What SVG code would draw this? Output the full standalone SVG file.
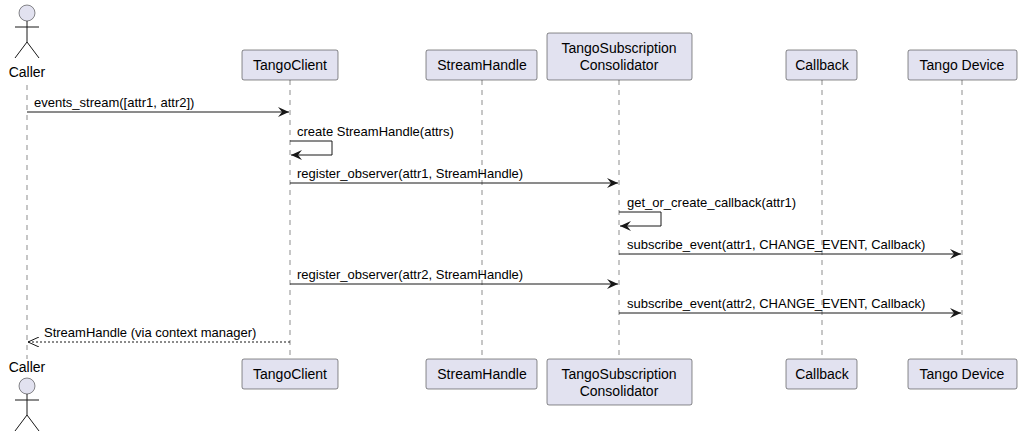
<svg xmlns="http://www.w3.org/2000/svg" width="1022" height="440" viewBox="0 0 1022 440">
<style>
text{font-family:"Liberation Sans",Arial,sans-serif;font-size:13px;fill:#000}
.box{fill:#E2E2F0;stroke:#181818;stroke-width:0.5}
.life{stroke:#181818;stroke-width:0.5;stroke-dasharray:5,5}
.msg{stroke:#181818;stroke-width:1;fill:none}
.act{fill:#E2E2F0;stroke:#181818;stroke-width:0.5}
.c{text-anchor:middle;font-size:14px}
</style>
<defs>
<marker id="ah" markerWidth="12" markerHeight="10" refX="11" refY="5" orient="auto" markerUnits="userSpaceOnUse">
<path d="M0,0 L11,5 L0,10 L4,5 Z" fill="#181818"/>
</marker>
<marker id="oa" markerWidth="12" markerHeight="10" refX="11" refY="5" orient="auto" markerUnits="userSpaceOnUse">
<path d="M0,0 L11,5 L0,10" fill="none" stroke="#181818"/>
</marker>
</defs>
<g id="lifelines">
<line class="life" x1="27" y1="85" x2="27" y2="359"/>
<line class="life" x1="290" y1="80" x2="290" y2="359"/>
<line class="life" x1="482" y1="80" x2="482" y2="359"/>
<line class="life" x1="619" y1="80" x2="619" y2="359"/>
<line class="life" x1="822" y1="80" x2="822" y2="359"/>
<line class="life" x1="962" y1="80" x2="962" y2="359"/>
</g>
<g id="caller">
<circle class="act" cx="27" cy="13" r="8"/>
<path class="msg" d="M27,21 V42 M15,27 H39 M27,42 L15,58 M27,42 L39,58" stroke-width="0.5"/>
<text class="c" x="27" y="77">Caller</text>
<text class="c" x="27" y="372">Caller</text>
<circle class="act" cx="27" cy="386" r="8"/>
<path class="msg" d="M27,394 V415 M15,400 H39 M27,415 L15,431 M27,415 L39,431" stroke-width="0.5"/>
</g>
<g id="tangoclient">
<rect class="box" x="242" y="50" width="96" height="30" rx="2"/><text class="c" x="290" y="70">TangoClient</text>
<rect class="box" x="242" y="359" width="96" height="30" rx="2"/><text class="c" x="290" y="379">TangoClient</text>
</g>
<g id="streamhandle">
<rect class="box" x="426" y="50" width="111" height="30" rx="2"/><text class="c" x="482" y="70">StreamHandle</text>
<rect class="box" x="426" y="359" width="111" height="30" rx="2"/><text class="c" x="482" y="379">StreamHandle</text>
</g>
<g id="consolidator">
<rect class="box" x="547" y="33" width="145" height="47" rx="2"/><text class="c" x="619" y="53">TangoSubscription</text><text class="c" x="619" y="70">Consolidator</text>
<rect class="box" x="547" y="359" width="145" height="46" rx="2"/><text class="c" x="619" y="379">TangoSubscription</text><text class="c" x="619" y="396">Consolidator</text>
</g>
<g id="callback">
<rect class="box" x="786" y="50" width="71" height="30" rx="2"/><text class="c" x="822" y="70">Callback</text>
<rect class="box" x="786" y="359" width="71" height="30" rx="2"/><text class="c" x="822" y="379">Callback</text>
</g>
<g id="tangodevice">
<rect class="box" x="908" y="50" width="109" height="30" rx="2"/><text class="c" x="962" y="70">Tango Device</text>
<rect class="box" x="908" y="359" width="109" height="30" rx="2"/><text class="c" x="962" y="379">Tango Device</text>
</g>
<g id="connectors">
<line class="msg" x1="27" y1="112" x2="289" y2="112" marker-end="url(#ah)"/>
<text x="34" y="107">events_stream([attr1, attr2])</text>
<path class="msg" d="M290,141 H332 V155 H291" marker-end="url(#ah)"/>
<text x="297" y="136">create StreamHandle(attrs)</text>
<line class="msg" x1="290" y1="183" x2="618" y2="183" marker-end="url(#ah)"/>
<text x="297" y="178">register_observer(attr1, StreamHandle)</text>
<path class="msg" d="M619,212 H661 V226 H620" marker-end="url(#ah)"/>
<text x="627" y="207">get_or_create_callback(attr1)</text>
<line class="msg" x1="619" y1="254" x2="961" y2="254" marker-end="url(#ah)"/>
<text x="627" y="249">subscribe_event(attr1, CHANGE_EVENT, Callback)</text>
<line class="msg" x1="290" y1="284" x2="618" y2="284" marker-end="url(#ah)"/>
<text x="297" y="279">register_observer(attr2, StreamHandle)</text>
<line class="msg" x1="619" y1="313" x2="961" y2="313" marker-end="url(#ah)"/>
<text x="627" y="308">subscribe_event(attr2, CHANGE_EVENT, Callback)</text>
<line class="msg" x1="290" y1="342" x2="28" y2="342" stroke-dasharray="2,2" marker-end="url(#oa)"/>
<text x="44" y="337">StreamHandle (via context manager)</text>
</g>
</svg>
